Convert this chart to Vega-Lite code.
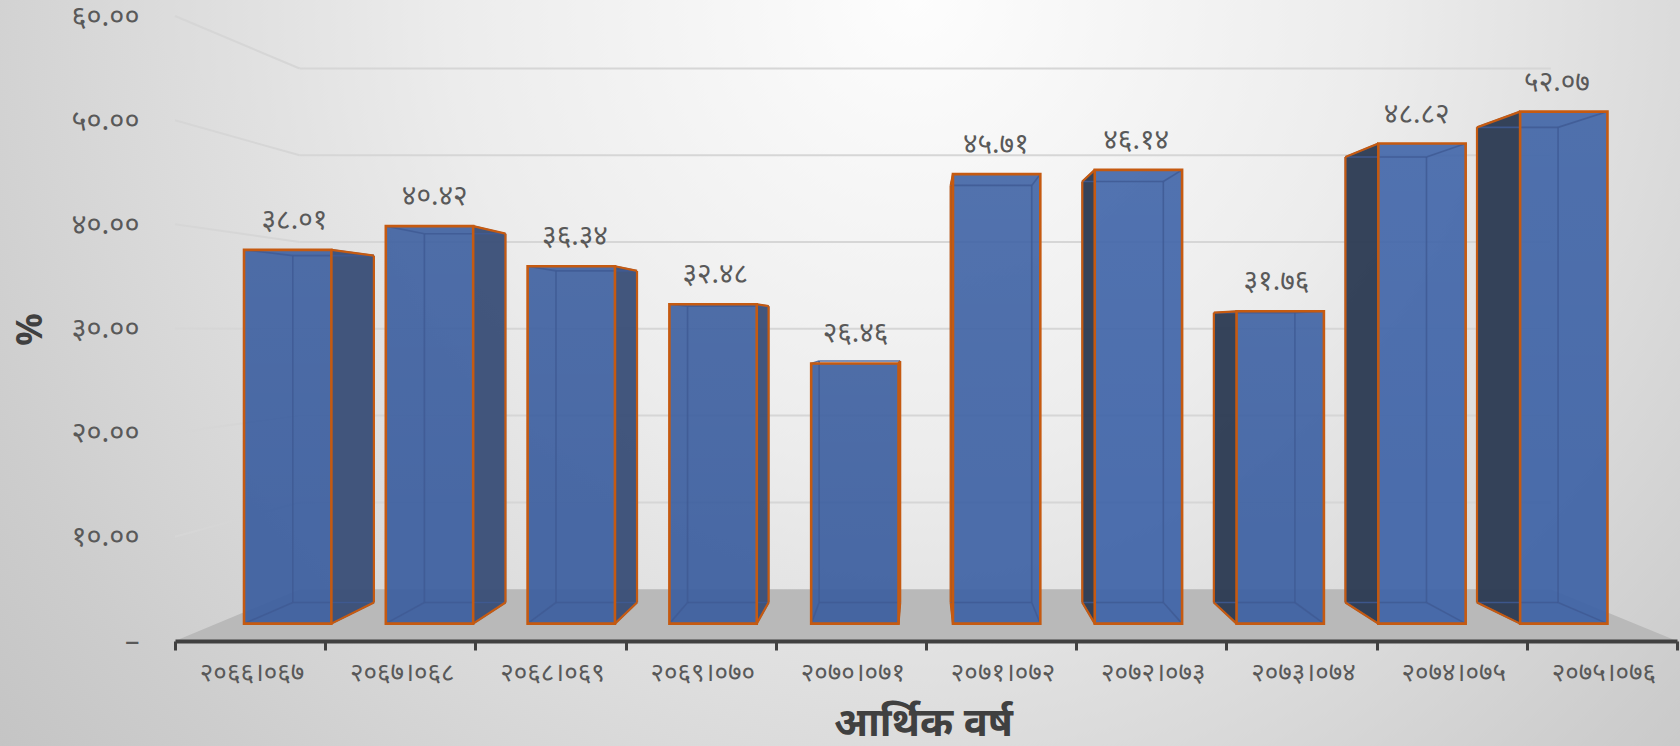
{
"$schema":"https://vega.github.io/schema/vega-lite/v6.json",
"width":1502,"height":625,"autosize":{"type":"none"},
"padding":{"left":175,"top":16,"right":3,"bottom":105},
"config":{"view":{"stroke":null},"font":"Noto Sans"},
"data":{"values":[
{"year":"२०६६।०६७","order":0,"value":38.01,"label":"३८.०१"},
{"year":"२०६७।०६८","order":1,"value":40.42,"label":"४०.४२"},
{"year":"२०६८।०६९","order":2,"value":36.34,"label":"३६.३४"},
{"year":"२०६९।०७०","order":3,"value":32.48,"label":"३२.४८"},
{"year":"२०७०।०७१","order":4,"value":26.46,"label":"२६.४६"},
{"year":"२०७१।०७२","order":5,"value":45.71,"label":"४५.७१"},
{"year":"२०७२।०७३","order":6,"value":46.14,"label":"४६.१४"},
{"year":"२०७३।०७४","order":7,"value":31.76,"label":"३१.७६"},
{"year":"२०७४।०७५","order":8,"value":48.82,"label":"४८.८२"},
{"year":"२०७५।०७६","order":9,"value":52.07,"label":"५२.०७"}
]},
"transform":[
{"calculate":"datum.order+0.5-0.308","as":"ul"},
{"calculate":"datum.order+0.5+0.308","as":"ur"},
{"calculate":"4.97+(datum.ul-4.97)*0.944","as":"xfl"},
{"calculate":"4.97+(datum.ur-4.97)*0.944","as":"xfr"},
{"calculate":"4.97+(datum.ul-4.97)*0.876","as":"xbl"},
{"calculate":"4.97+(datum.ur-4.97)*0.876","as":"xbr"},
{"calculate":"29.8+(datum.value-29.8)*0.944","as":"yft"},
{"calculate":"29.8+(0-29.8)*0.944","as":"yfb"},
{"calculate":"29.8+(datum.value-29.8)*0.876","as":"ybt"},
{"calculate":"29.8+(0-29.8)*0.876","as":"ybb"},
{"calculate":"datum.order<4.5?datum.xfr:datum.xfl","as":"xsf"},
{"calculate":"datum.order<4.5?datum.xbr:datum.xbl","as":"xsb"},
{"calculate":"4.97+(datum.order+0.5-4.97)*0.934","as":"xlab"}
],
"layer":[
{"data":{"values":[{"x0":-1.18,"x1":10.03,"y0":61.6,"y1":-117.5}]},
 "transform":[],
 "mark":{"type":"rect","fill":{"gradient":"radial","x1":0.54,"y1":0,"r1":0,"x2":0.54,"y2":0,"r2":1,"stops":[{"offset":0,"color":"#fdfdfd"},{"offset":0.25,"color":"#ececec"},{"offset":0.4,"color":"#dcdcdc"},{"offset":0.54,"color":"#cdcdcd"},{"offset":0.7,"color":"#bebebe"},{"offset":1,"color":"#a8a8a8"}]}},
 "encoding":{
  "x":{"field":"x0","type":"quantitative","scale":{"domain":[0,10],"nice":false,"zero":false},
   "axis":{"values":[0,1,2,3,4,5,6,7,8,9,10],"labels":false,"title":"आर्थिक वर्ष","titleFontSize":40,"titleFontWeight":"bold","titleColor":"#404040","titleX":748,"titleY":62,"titleAnchor":"middle","titleAlign":"center","grid":false,"domainColor":"#404040","domainWidth":4,"tickColor":"#404040","tickWidth":3,"tickSize":9,"zindex":1}},
  "x2":{"field":"x1"},
  "y":{"field":"y0","type":"quantitative","scale":{"domain":[0,60],"nice":false,"zero":false},
   "axis":{"values":[0,10,20,30,40,50,60],"labelExpr":"{'0':'–  ','10':'१०.००','20':'२०.००','30':'३०.००','40':'४०.००','50':'५०.००','60':'६०.००'}[datum.value]","labelFontSize":29,"labelColor":"#595959","labelPadding":36,"ticks":false,"domain":false,"grid":false,"title":"%","titleFontSize":36,"titleFontWeight":"bold","titleColor":"#404040","titleX":-126,"titleY":313,"titleAngle":-90,"zindex":1}},
  "y2":{"field":"y1"}}},
{"data":{"values":[{"depth":1},{"depth":0.833}]},
 "transform":[
  {"calculate":"4.97+(0-4.97)*datum.depth","as":"xl"},
  {"calculate":"4.97+(10-4.97)*datum.depth","as":"xr"},
  {"calculate":"29.8+(0-29.8)*datum.depth","as":"yy"}],
 "mark":{"type":"area","orient":"horizontal","color":"#b9b9b9","clip":false},
 "encoding":{"y":{"field":"yy","type":"quantitative"},"x":{"field":"xl","type":"quantitative"},"x2":{"field":"xr"}}},
{"data":{"values":[{"tick":10},{"tick":20},{"tick":30},{"tick":40},{"tick":50},{"tick":60}]},
 "transform":[{"calculate":"29.8+(datum.tick-29.8)*0.833","as":"yb"},{"calculate":"4.97+(0-4.97)*0.833","as":"xbl"},{"calculate":"0","as":"x0"}],
 "mark":{"type":"rule","color":"#d6d6d6","strokeWidth":2},
 "encoding":{"x":{"field":"x0","type":"quantitative"},"x2":{"field":"xbl"},"y":{"field":"tick","type":"quantitative"},"y2":{"field":"yb"}}},
{"data":{"values":[{"tick":10},{"tick":20},{"tick":30},{"tick":40},{"tick":50},{"tick":60}]},
 "transform":[{"calculate":"29.8+(datum.tick-29.8)*0.833","as":"yb"},{"calculate":"4.97+(0-4.97)*0.833","as":"xbl"},{"calculate":"4.97+(10-4.97)*0.833","as":"xbr"}],
 "mark":{"type":"rule","color":"#d6d6d6","strokeWidth":2},
 "encoding":{"x":{"field":"xbl","type":"quantitative"},"x2":{"field":"xbr"},"y":{"field":"yb","type":"quantitative"}}},
{"transform":[{"calculate":"[0,1]","as":"t"},{"flatten":["t"]},{"calculate":"datum.t?datum.xsb:datum.xsf","as":"sx"},{"calculate":"datum.t?datum.ybt:datum.yft","as":"st"},{"calculate":"datum.t?datum.ybb:datum.yfb","as":"sb"}],
 "mark":{"type":"area","opacity":0.96},
 "encoding":{"x":{"field":"sx","type":"quantitative"},"y":{"field":"st","type":"quantitative"},"y2":{"field":"sb"},"detail":{"field":"year"},
  "color":{"condition":{"test":"datum.order<5","value":"#3a4f78"},"value":"#2d3b53"}}},
{"mark":{"type":"rect","opacity":0.93},
 "encoding":{"x":{"field":"xfl","type":"quantitative"},"x2":{"field":"xfr"},"y":{"field":"yft","type":"quantitative"},"y2":{"field":"yfb"},
  "color":{"field":"order","type":"ordinal","legend":null,"scale":{"range":["#3c5f9f","#3c5f9f","#3c5f9f","#3c5f9f","#3c5f9f","#3f63a5","#3f64a8","#3d61a3","#3f64a8","#3e63a6"]}}}},
{"mark":{"type":"rect","fill":{"gradient":"linear","x1":0,"y1":0,"x2":0,"y2":1,"stops":[{"offset":0,"color":"rgba(255,255,255,0.28)"},{"offset":0.75,"color":"rgba(255,255,255,0)"}]}},
 "encoding":{"x":{"field":"xfl","type":"quantitative"},"x2":{"field":"xfr"},"y":{"field":"yft","type":"quantitative"},"y2":{"field":"yfb"},
  "opacity":{"field":"order","type":"ordinal","legend":null,"scale":{"range":[0.1,0.1,0.1,0.1,0.1,0.55,0.9,0.45,0.9,0.6]}}}},
{"transform":[
  {"calculate":"[[datum.xbl,datum.ybt,datum.xbr,datum.ybt],[datum.xbl,datum.ybb,datum.xbr,datum.ybb],[datum.xbl,datum.ybt,datum.xbl,datum.ybb],[datum.xbr,datum.ybt,datum.xbr,datum.ybb],[datum.xfl,datum.yft,datum.xbl,datum.ybt],[datum.xfr,datum.yft,datum.xbr,datum.ybt],[datum.xfl,datum.yfb,datum.xbl,datum.ybb],[datum.xfr,datum.yfb,datum.xbr,datum.ybb]]","as":"seg"},
  {"flatten":["seg"]},
  {"calculate":"datum.seg[0]","as":"a"},{"calculate":"datum.seg[1]","as":"b"},{"calculate":"datum.seg[2]","as":"c"},{"calculate":"datum.seg[3]","as":"d"}],
 "mark":{"type":"rule","color":"#3f5a94","strokeWidth":1.6,"opacity":0.85},
 "encoding":{"x":{"field":"a","type":"quantitative"},"y":{"field":"b","type":"quantitative"},"x2":{"field":"c"},"y2":{"field":"d"}}},
{"transform":[
  {"calculate":"[[datum.xsf,datum.yft,datum.xsb,datum.ybt],[datum.xsb,datum.ybt,datum.xsb,datum.ybb],[datum.xsf,datum.yfb,datum.xsb,datum.ybb]]","as":"seg"},
  {"flatten":["seg"]},
  {"calculate":"datum.seg[0]","as":"a"},{"calculate":"datum.seg[1]","as":"b"},{"calculate":"datum.seg[2]","as":"c"},{"calculate":"datum.seg[3]","as":"d"}],
 "mark":{"type":"rule","color":"#c55a11","strokeWidth":2.2},
 "encoding":{"x":{"field":"a","type":"quantitative"},"y":{"field":"b","type":"quantitative"},"x2":{"field":"c"},"y2":{"field":"d"}}},
{"mark":{"type":"rect","fillOpacity":0,"stroke":"#c55a11","strokeWidth":2.6},
 "encoding":{"x":{"field":"xfl","type":"quantitative"},"x2":{"field":"xfr"},"y":{"field":"yft","type":"quantitative"},"y2":{"field":"yfb"}}},
{"mark":{"type":"text","fontSize":28,"color":"#595959","dy":-29,"baseline":"middle","align":"center"},
 "encoding":{"x":{"field":"xlab","type":"quantitative"},"y":{"field":"yft","type":"quantitative"},"text":{"field":"label"}}},
{"transform":[{"calculate":"datum.order+0.5","as":"xc"},{"calculate":"0","as":"y0"}],
 "mark":{"type":"text","fontSize":26,"color":"#595959","dy":32,"dx":2,"baseline":"middle","align":"center"},
 "encoding":{"x":{"field":"xc","type":"quantitative"},"y":{"field":"y0","type":"quantitative"},"text":{"field":"year"}}}
]
}
